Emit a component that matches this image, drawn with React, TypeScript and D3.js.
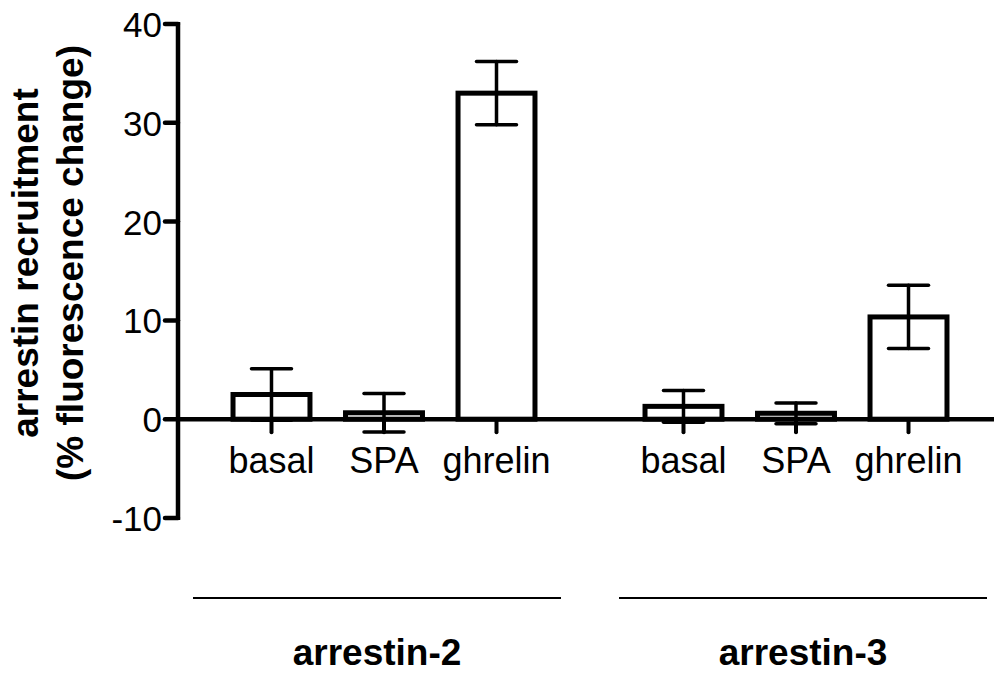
import * as d3 from 'd3';

// values (mean and error, % fluorescence change)
const groups = ['arrestin-2', 'arrestin-3'];
const treatments = ['basal', 'SPA', 'ghrelin'];
const arr2Mean = [2.5, 0.65, 33.0];
const arr2Err = [2.6, 1.95, 3.2];
const arr3Mean = [1.3, 0.6, 10.35];
const arr3Err = [1.6, 1.05, 3.2];
const yTicks = [-10, 0, 10, 20, 30, 40];

const W = 994;
const H = 673;
const FONT = '"Liberation Sans", Arial, Helvetica, sans-serif';

function App() {
  const y = d3.scaleLinear().domain([-10, 40]).range([518, 24]);
  const xGroup = d3.scaleBand().domain(groups).range([178, 1002]);
  const xInner = d3
    .scaleBand()
    .domain(treatments)
    .range([0, xGroup.bandwidth()])
    .paddingInner(0.316)
    .paddingOuter(0.489);

  const means = [arr2Mean, arr3Mean];
  const errs = [arr2Err, arr3Err];
  const rows = groups.flatMap((g, gi) =>
    treatments.map((t, ti) => ({
      g,
      t,
      mean: means[gi][ti],
      err: errs[gi][ti],
      x0: (xGroup(g) ?? 0) + (xInner(t) ?? 0),
    }))
  );
  const bw = xInner.bandwidth();
  const axisX = xGroup.range()[0];
  const y0 = y(0);
  const capHalf = 20;
  const groupShift = [-7, 7];

  return (
    <svg
      width={W}
      height={H}
      style={{ position: 'absolute', left: 0, top: 0, background: '#fff' }}
      fontFamily={FONT}
    >
      {/* bars */}
      {rows.map((d) => (
        <rect
          key={'bar' + d.g + d.t}
          x={d.x0}
          y={y(Math.max(d.mean, 0))}
          width={bw}
          height={Math.abs(y(d.mean) - y0)}
          fill="#fff"
          stroke="#000"
          strokeWidth={5}
        />
      ))}

      {/* zero line across the plot */}
      <line x1={axisX} x2={W} y1={y0} y2={y0} stroke="#000" strokeWidth={4.5} />

      {/* category ticks under zero line */}
      {rows.map((d) => (
        <line
          key={'ct' + d.g + d.t}
          x1={d.x0 + bw / 2}
          x2={d.x0 + bw / 2}
          y1={y0}
          y2={y0 + 13}
          stroke="#000"
          strokeWidth={4}
          strokeLinecap="round"
        />
      ))}

      {/* error bars */}
      {rows.map((d) => {
        const cx = d.x0 + bw / 2;
        const top = y(d.mean + d.err);
        const bot = y(d.mean - d.err);
        return (
          <g key={'eb' + d.g + d.t} stroke="#000" strokeWidth={3.5} strokeLinecap="round">
            <line x1={cx} x2={cx} y1={top} y2={bot} />
            <line x1={cx - capHalf} x2={cx + capHalf} y1={top} y2={top} />
            <line x1={cx - capHalf} x2={cx + capHalf} y1={bot} y2={bot} />
          </g>
        );
      })}

      {/* y axis */}
      <line
        x1={axisX}
        x2={axisX}
        y1={y(yTicks[0]) + 2}
        y2={y(yTicks[yTicks.length - 1]) - 2}
        stroke="#000"
        strokeWidth={4.5}
      />
      {yTicks.map((t) => (
        <g key={'yt' + t}>
          <line x1={axisX - 13} x2={axisX} y1={y(t)} y2={y(t)} stroke="#000" strokeWidth={4.5} strokeLinecap="round" />
          <text x={162} y={y(t) + 13} textAnchor="end" fontSize={35} fill="#000">
            {t}
          </text>
        </g>
      ))}

      {/* category labels */}
      {rows.map((d) => (
        <text
          key={'cl' + d.g + d.t}
          x={d.x0 + bw / 2}
          y={473}
          textAnchor="middle"
          fontSize={36}
          fill="#000"
        >
          {d.t}
        </text>
      ))}

      {/* group lines + labels */}
      {groups.map((g, gi) => {
        const cx = (xGroup(g) ?? 0) + xGroup.bandwidth() / 2 + groupShift[gi];
        return (
          <g key={'grp' + g}>
            <line x1={cx - 184} x2={cx + 184} y1={598} y2={598} stroke="#000" strokeWidth={2} />
            <text x={cx} y={665} textAnchor="middle" fontSize={37} fontWeight="bold" fill="#000">
              {g}
            </text>
          </g>
        );
      })}

      {/* y title */}
      <g transform="translate(38,263) rotate(-90)">
        <text x={0} y={0} textAnchor="middle" fontSize={37} fontWeight="bold" fill="#000">
          arrestin recruitment
        </text>
        <text x={0} y={45} textAnchor="middle" fontSize={37} fontWeight="bold" fill="#000">
          (% fluorescence change)
        </text>
      </g>
    </svg>
  );
}

export default App;
